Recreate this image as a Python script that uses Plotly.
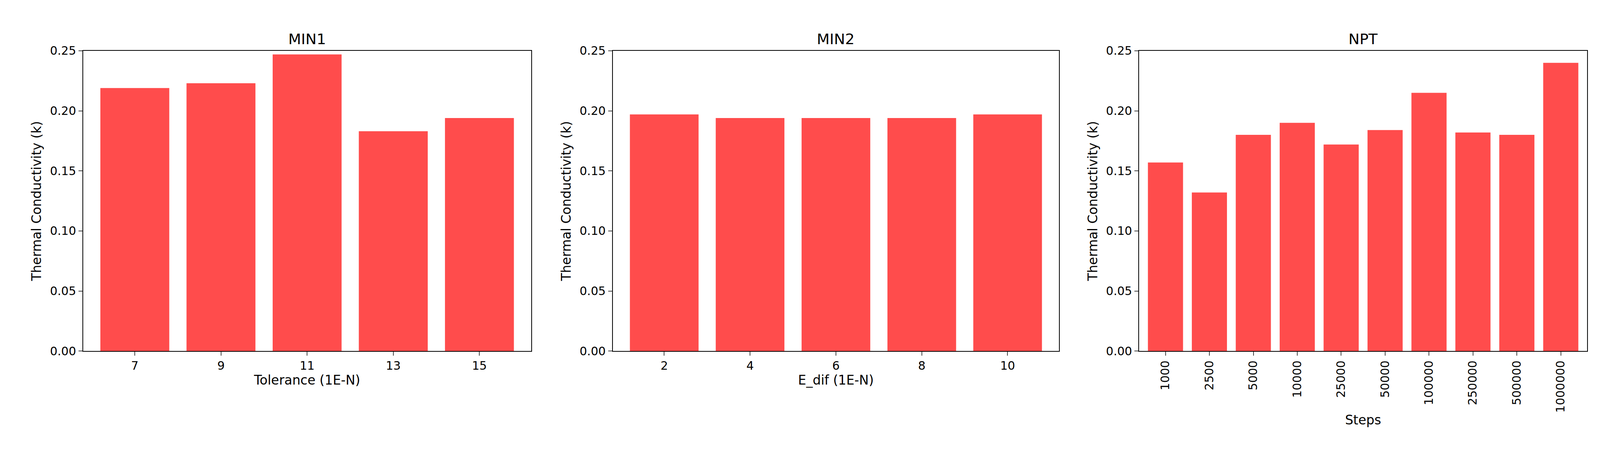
import plotly.graph_objects as go

# data
min1_tol = ["7", "9", "11", "13", "15"]
min1_k = [0.219, 0.223, 0.247, 0.183, 0.194]

min2_edif = ["2", "4", "6", "8", "10"]
min2_k = [0.197, 0.194, 0.194, 0.194, 0.197]

npt_steps = ["1000", "2500", "5000", "10000", "25000", "50000",
             "100000", "250000", "500000", "1000000"]
npt_k = [0.157, 0.132, 0.180, 0.190, 0.172, 0.184, 0.215, 0.182, 0.180, 0.240]

bar_color = "rgba(255,0,0,0.7)"
font = "DejaVu Sans"

panels = [
    ("MIN1", min1_tol, min1_k, "Tolerance (1E-N)", [0.050, 0.330], 0),
    ("MIN2", min2_edif, min2_k, "E_dif (1E-N)", [0.381, 0.660], 0),
    ("NPT", npt_steps, npt_k, "Steps", [0.710, 0.990], -90),
]

fig = go.Figure()
layout = dict(
    autosize=True,
    margin=dict(l=0, r=0, t=0, b=0),
    paper_bgcolor="white", plot_bgcolor="white",
    showlegend=False,
    font=dict(family=font, color="black", size=30),
    annotations=[],
)

for i, (title, cats, vals, xlab, dom, angle) in enumerate(panels):
    n = "" if i == 0 else str(i + 1)
    fig.add_trace(go.Bar(x=cats, y=vals, marker=dict(color=bar_color, line=dict(width=0)),
                         width=0.8, xaxis="x" + n, yaxis="y" + n))
    axis_style = dict(showline=True, linecolor="black", linewidth=2, mirror=True,
                      showgrid=False, zeroline=False, ticks="outside", ticklen=10,
                      tickwidth=2, tickfont=dict(size=30))
    layout["xaxis" + n] = dict(axis_style, domain=dom, anchor="y" + n,
                               type="category", range=[-0.6, len(cats) - 0.4],
                               tickangle=angle,
                               title=dict(text=xlab, font=dict(size=33), standoff=8))
    layout["yaxis" + n] = dict(axis_style, domain=[0.251, 0.910], anchor="x" + n,
                               range=[0, 0.25], dtick=0.05, tickformat=".2f",
                               title=dict(text="Thermal Conductivity (k)", font=dict(size=33), standoff=12))
    layout["annotations"].append(dict(text=title, x=(dom[0] + dom[1]) / 2, y=0.915,
                                      xref="paper", yref="paper", xanchor="center",
                                      yanchor="bottom", showarrow=False, font=dict(size=38)))

fig.update_layout(**layout)
fig.write_html("out.html", default_width="100vw", default_height="100vh",
               config={"responsive": True})
